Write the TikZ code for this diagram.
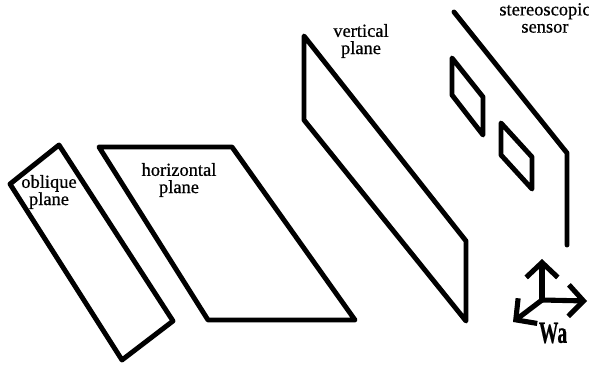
\documentclass[tikz,border=0pt]{standalone}
\usepackage{fontspec}
\setmainfont{Liberation Serif}
\newfontfamily\labelfont[FakeBold=0.6]{Liberation Serif}
\usetikzlibrary{arrows.meta}

\begin{document}
\begin{tikzpicture}[x=0.02cm, y=-0.02cm, >={Straight Barb[length=8.5pt, width=18pt, line width=2.9pt]},
  plane/.style={draw=black, line width=2.8pt, line join=round, line cap=round},
  axis/.style={->, draw=black, line width=2.9pt, line cap=round},
  label/.style={align=center, font=\labelfont\fontsize{10.5pt}{9.8pt}\selectfont, inner sep=0pt, text=black}]

  \useasboundingbox (0,0) rectangle (589,368);

  % planes
  \draw [plane] (59,145) -- (10,184) -- (122,360) -- (173,321) -- cycle;
  \draw [plane] (99,147) -- (232,147) -- (355,320) -- (208,320) -- cycle;
  \draw [plane] (304,36) -- (466,241) -- (466,321) -- (304,120) -- cycle;

  % sensor
  \draw [plane] (454,12) -- (567,153) -- (567,245);
  \draw [plane] (452,58) -- (483,97) -- (483,135) -- (452,95) -- cycle;
  \draw [plane] (501,123) -- (532,157) -- (532,189) -- (501,155) -- cycle;

  % axes
  \coordinate (origin) at (542,300);
  \coordinate (up) at (542,259);
  \coordinate (right) at (587,301);
  \coordinate (down) at (513,322);
  \draw [axis] (origin) -- (up);
  \draw [axis] (origin) -- (right);
  \draw [axis] (origin) -- (down);

  \node [label] (oblique) at (49,192) {oblique\\ plane};
  \node [label] (horizontal) at (179,180) {horizontal\\ plane};
  \node [label] (vertical) at (361,41) {vertical\\ plane};
  \node [label] (sensor) at (545,18) {stereoscopic\\ sensor};
  \node [label] (wa) at (553,333) {\scalebox{0.8}[1.25]{\bfseries\fontsize{14pt}{14pt}\selectfont Wa}};
\end{tikzpicture}
\end{document}
